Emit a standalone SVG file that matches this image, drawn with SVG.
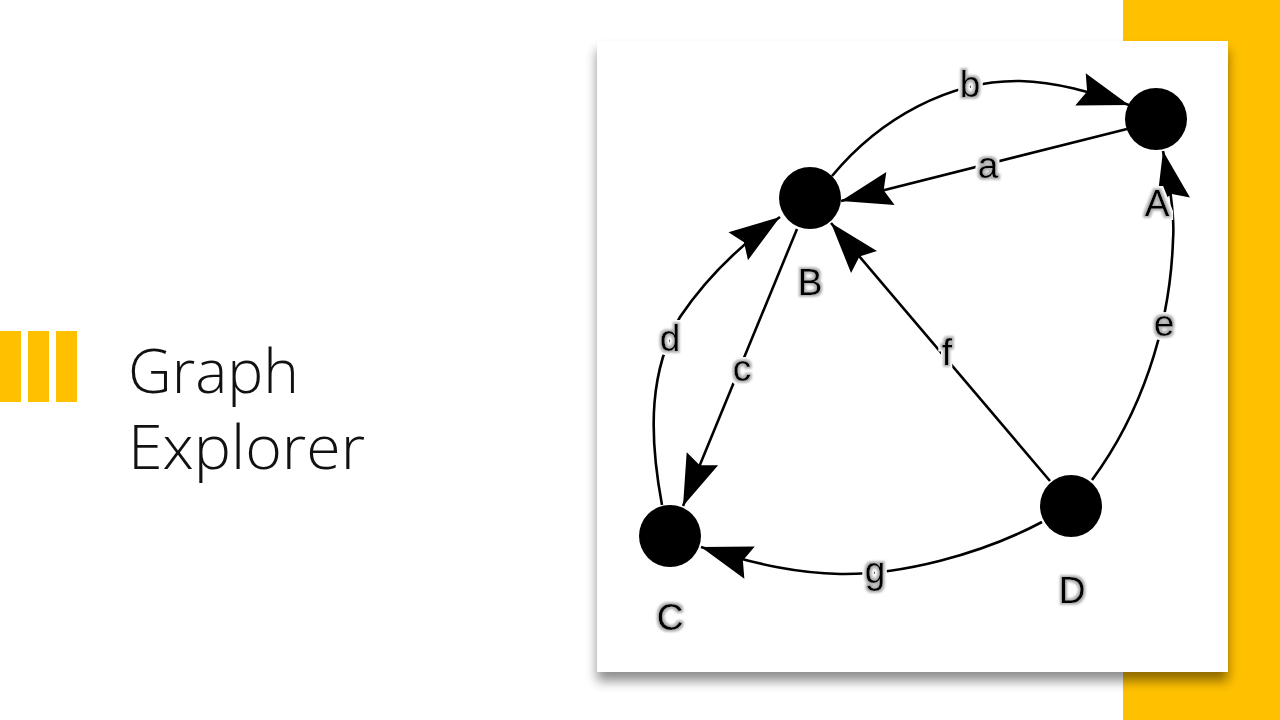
<svg xmlns="http://www.w3.org/2000/svg" width="1280" height="720" viewBox="0 0 1280 720">
  <defs>
    <style>
      .title { font-family: "Open Sans", "Noto Sans", sans-serif; font-weight: 300; font-size: 60px; fill: #111; }
      .edge { fill: none; stroke: #000; stroke-width: 2.6; }
      .node { fill: #000; }
      .lbl { font-family: "Liberation Sans", Arial, sans-serif; font-size: 37px; fill: #000; text-anchor: middle; filter: url(#halo); }
      .gold { fill: #FFC000; }
    </style>
    <marker id="arr" viewBox="-54 -20 56 40" refX="0" refY="0" markerWidth="56" markerHeight="40" markerUnits="userSpaceOnUse" orient="auto">
      <path d="M0,0 L-51,-17 L-44,0 L-51,17 Z" fill="#000"/>
    </marker>
    <filter id="halo" x="-40%" y="-40%" width="180%" height="180%">
      <feMorphology in="SourceAlpha" operator="dilate" radius="4" result="d1"/>
      <feFlood flood-color="#ffffff" result="w"/>
      <feComposite in="w" in2="d1" operator="in" result="white"/>
      <feMorphology in="SourceAlpha" operator="dilate" radius="1.5" result="d2"/>
      <feGaussianBlur in="d2" stdDeviation="1.2" result="d2b"/>
      <feFlood flood-color="#b0b0b0" result="g"/>
      <feComposite in="g" in2="d2b" operator="in" result="gray"/>
      <feMerge>
        <feMergeNode in="white"/>
        <feMergeNode in="gray"/>
        <feMergeNode in="SourceGraphic"/>
      </feMerge>
    </filter>
    <filter id="shadow" x="-10%" y="-10%" width="120%" height="125%">
      <feGaussianBlur in="SourceAlpha" stdDeviation="6"/>
      <feOffset dx="0" dy="9" result="o"/>
      <feComponentTransfer in="o" result="s">
        <feFuncA type="linear" slope="0.45"/>
      </feComponentTransfer>
      <feMerge>
        <feMergeNode in="s"/>
        <feMergeNode in="SourceGraphic"/>
      </feMerge>
    </filter>
  </defs>

  <rect width="1280" height="720" fill="#ffffff"/>

  <g id="decor">
    <rect class="gold" x="1123" y="0" width="157" height="720"/>
    <rect class="gold" x="0" y="331" width="21" height="71"/>
    <rect class="gold" x="28" y="331" width="21" height="71"/>
    <rect class="gold" x="56" y="331" width="21" height="71"/>
  </g>

  <g id="title">
    <text class="title" x="128" y="393" textLength="171" lengthAdjust="spacingAndGlyphs">Graph</text>
    <text class="title" x="128" y="469" textLength="237" lengthAdjust="spacingAndGlyphs">Explorer</text>
  </g>

  <rect id="panel" x="597" y="41" width="631" height="631" fill="#ffffff" filter="url(#shadow)"/>

  <g id="connectors">
    <path id="edge-a" class="edge" d="M1127,129 L841,201" marker-end="url(#arr)"/>
    <path id="edge-b" class="edge" d="M832,176 C880,118 950,80 1020,81 C1060,82 1095,94 1129,105" marker-end="url(#arr)"/>
    <path id="edge-c" class="edge" d="M797,229 L683,506" marker-end="url(#arr)"/>
    <path id="edge-d" class="edge" d="M662,505 C648,430 650,370 680,317 C705,280 740,245 780,217" marker-end="url(#arr)"/>
    <path id="edge-e" class="edge" d="M1092,480 C1140,415 1170,330 1173,240 C1175,215 1169,180 1163,151" marker-end="url(#arr)"/>
    <path id="edge-f" class="edge" d="M1050,481 L831,223" marker-end="url(#arr)"/>
    <path id="edge-g" class="edge" d="M1042,522 C980,555 900,575 840,574 C800,573 760,566 701,547" marker-end="url(#arr)"/>
    <text class="lbl" x="988" y="178">a</text>
    <text class="lbl" x="970" y="97">b</text>
    <text class="lbl" x="742" y="381">c</text>
    <text class="lbl" x="670" y="351">d</text>
    <text class="lbl" x="1164" y="336">e</text>
    <text class="lbl" x="947" y="365">f</text>
    <text class="lbl" x="875" y="583">g</text>
  </g>

  <g id="node-A">
    <circle class="node" cx="1156" cy="119" r="31"/>
    <text class="lbl" x="1157" y="216">A</text>
  </g>
  <g id="node-B">
    <circle class="node" cx="810" cy="198" r="31"/>
    <text class="lbl" x="810" y="295">B</text>
  </g>
  <g id="node-C">
    <circle class="node" cx="670" cy="536" r="31"/>
    <text class="lbl" x="670" y="630">C</text>
  </g>
  <g id="node-D">
    <circle class="node" cx="1071" cy="506" r="31"/>
    <text class="lbl" x="1072" y="603">D</text>
  </g>
</svg>
